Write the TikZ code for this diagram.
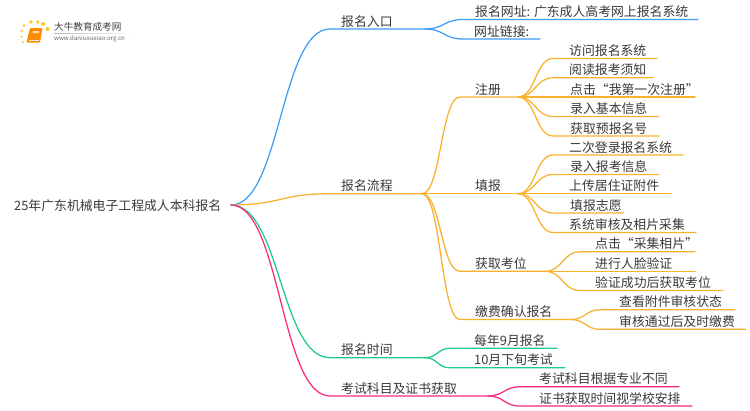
\documentclass[tikz,border=0pt]{standalone}
\usepackage{fontspec}
\setmainfont{Noto Sans CJK SC}
\usetikzlibrary{calc}
\definecolor{cblue}{HTML}{3C9DFA}
\definecolor{corange}{HTML}{F9B12E}
\definecolor{cgreen}{HTML}{1FCB85}
\definecolor{cpink}{HTML}{F92A80}
\definecolor{ctext}{HTML}{3A3A3A}
\tikzset{
  mmtext/.style={anchor=west,inner sep=0pt,text=ctext,font=\fontsize{12.85}{14}\selectfont},
  mmline/.style={line width=1.25pt,line cap=round,line join=round},
}
% colour, parent, name, start x, y, end x, text x, text
\newcommand{\mmbranch}[8]{%
  \coordinate (#3-s) at (#4,#5);
  \coordinate (#3-e) at (#6,#5);
  \node[mmtext] (#3) at (#7,#5-7.8) {#8};
  \draw[mmline,#1] (#2) .. controls ($(#2)!0.5!(#3-s |- #2)$) and ($(#3-s)!0.5!(#2 |- #3-s)$) .. (#3-s) -- (#3-e);
}
\begin{document}
\begin{tikzpicture}[x=1pt,y=-1pt]
\useasboundingbox (0,0) rectangle (750,410);
\fill[white] (0,0) rectangle (750,410);
% logo
\foreach \px/\py/\pr in {24/25.6/1.6,31/22/1.9,37.7/22/1.9,43/24/2,47.7/29/2.1,22/31/1.4,21.7/36.7/1.2,23/42/1.1}
  \fill[orange!50!yellow!85!white] (\px,\py) circle (\pr);
\fill[orange!90!yellow,rounded corners=1pt] (30,28) -- (42.5,28) -- (40,42.5) -- (26.5,42.5) -- cycle;
\draw[white!85!orange,line width=.6pt] (29,40) -- (39,40);
\fill[white!70!orange] (33,31) -- (39.5,31) -- (39,33) -- (32.5,33) -- cycle;
\shade[left color=black!30,right color=white] (54,33) rectangle (133,33.6);
\node[inner sep=0pt,anchor=west,text=black!75,font=\fontsize{9.6}{10}\selectfont] (logotitle) at (54,27) {大牛教育成考网};
\node[inner sep=0pt,anchor=west,text=black!60,font=\fontsize{6.1}{7}\selectfont] (logourl) at (54,39) {www.daniuxueiao.org.cn};
% root
\coordinate (root) at (231,205);
\node[mmtext] (roottext) at (14,205.5) {25年广东机械电子工程成人本科报名};
% first level
\mmbranch{cblue}{root}{b1}{330}{29}{425}{341}{报名入口}
\mmbranch{corange}{root}{b2}{330}{193.7}{422}{341}{报名流程}
\mmbranch{cgreen}{root}{b3}{330}{357.7}{425}{341}{报名时间}
\mmbranch{cpink}{root}{b4}{330}{396}{488}{341}{考试科目及证书获取}
% blue leaves
\mmbranch{cblue}{b1-e}{a1}{463}{19.5}{698}{475}{报名网址: 广东成人高考网上报名系统}
\mmbranch{cblue}{b1-e}{a2}{463}{39}{540}{474}{网址链接:}
% orange second level
\mmbranch{corange}{b2-e}{c1}{460}{97}{518}{475}{注册}
\mmbranch{corange}{b2-e}{c2}{460}{193.7}{518}{475}{填报}
\mmbranch{corange}{b2-e}{c3}{460}{271.3}{545}{475}{获取考位}
\mmbranch{corange}{b2-e}{c4}{460}{319.5}{571}{475}{缴费确认报名}
% register
\mmbranch{corange}{c1-e}{d1}{553}{58.5}{657}{569}{访问报名系统}
\mmbranch{corange}{c1-e}{d2}{553}{77.8}{653}{569}{阅读报考须知}
\mmbranch{corange}{c1-e}{d3}{553}{97}{695}{570}{点击“我第一次注册”}
\mmbranch{corange}{c1-e}{d4}{553}{116.5}{659}{570}{录入基本信息}
\mmbranch{corange}{c1-e}{d5}{553}{136}{659}{570}{获取预报名号}
% fill in
\mmbranch{corange}{c2-e}{e1}{553}{155}{683}{569}{二次登录报名系统}
\mmbranch{corange}{c2-e}{e2}{553}{174.5}{659}{570}{录入报考信息}
\mmbranch{corange}{c2-e}{e3}{553}{193.7}{671}{569}{上传居住证附件}
\mmbranch{corange}{c2-e}{e4}{553}{213}{624}{570}{填报志愿}
\mmbranch{corange}{c2-e}{e5}{553}{232.5}{696}{569}{系统审核及相片采集}
% seat
\mmbranch{corange}{c3-e}{f1}{580}{251.8}{695}{595}{点击“采集相片”}
\mmbranch{corange}{c3-e}{f2}{580}{271.3}{695}{595}{进行人脸验证}
\mmbranch{corange}{c3-e}{f3}{580}{290.5}{723}{595}{验证成功后获取考位}
% pay
\mmbranch{corange}{c4-e}{g1}{600}{309.8}{735}{619}{查看附件审核状态}
\mmbranch{corange}{c4-e}{g2}{600}{329.3}{746}{619}{审核通过后及时缴费}
% time
\mmbranch{cgreen}{b3-e}{h1}{450}{348.3}{557}{474}{每年9月报名}
\mmbranch{cgreen}{b3-e}{h2}{450}{367.8}{565}{474}{10月下旬考试}
% subjects
\mmbranch{cpink}{b4-e}{i1}{520}{386.8}{679}{539}{考试科目根据专业不同}
\mmbranch{cpink}{b4-e}{i2}{520}{406}{692}{539}{证书获取时间视学校安排}
\end{tikzpicture}
\end{document}
